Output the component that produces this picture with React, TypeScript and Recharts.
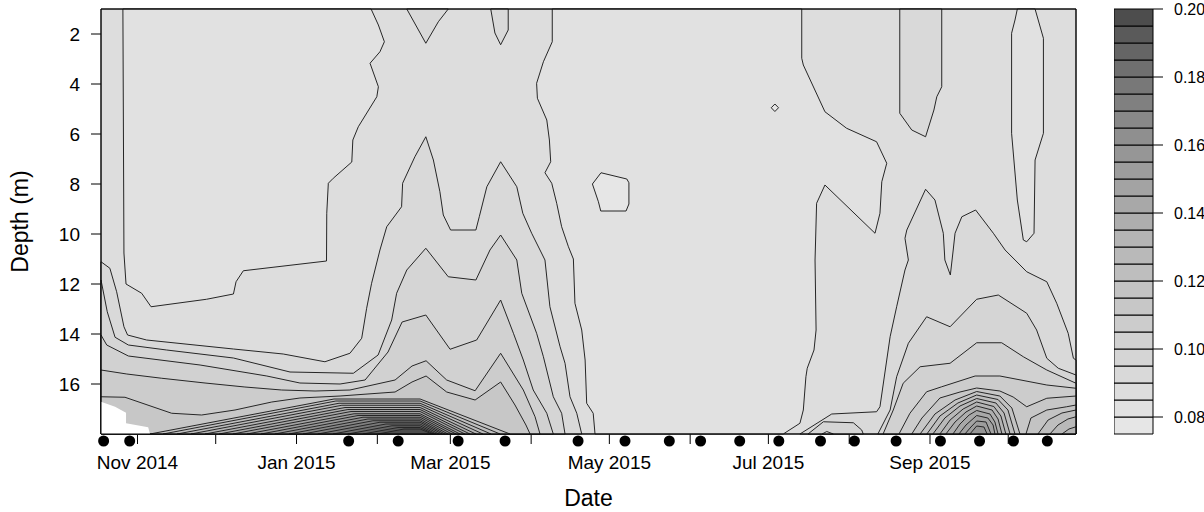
import React from 'react';
import { ComposedChart, Scatter, XAxis, YAxis } from 'recharts';

type Pt = [number, number];

// x runs in days since 1 Nov 2014, y is depth in metres (surface at the top).
const ORIGIN = Date.UTC(2014, 10, 1);
const dayOf = (iso: string) => {
  const [y, m, d] = iso.split('-').map(Number);
  return (Date.UTC(y, m - 1, d) - ORIGIN) / 86400000;
};

const monthStarts = [
  '2014-11-01', '2014-12-01', '2015-01-01', '2015-02-01', '2015-03-01', '2015-04-01',
  '2015-05-01', '2015-06-01', '2015-07-01', '2015-08-01', '2015-09-01', '2015-10-01',
];
const monthLabels = ['Nov 2014', '', 'Jan 2015', '', 'Mar 2015', '', 'May 2015', '', 'Jul 2015', '', 'Sep 2015', ''];
const depthTicks = [2, 4, 6, 8, 10, 12, 14, 16];
const sampleDates = [
  '2014-10-19', '2014-10-29', '2015-01-21', '2015-02-09', '2015-03-04', '2015-03-22', '2015-04-19',
  '2015-05-07', '2015-05-24', '2015-06-05', '2015-06-20', '2015-07-05', '2015-07-21', '2015-08-03',
  '2015-08-19', '2015-09-05', '2015-09-20', '2015-10-03', '2015-10-16',
];

const dayRange: Pt = [-14, 360];
const depthRange: Pt = [1, 18];

// contour levels of the colour key (0.075 .. 0.200 by 0.005)
const keyLevels = [
  0.075, 0.08, 0.085, 0.09, 0.095, 0.1, 0.105, 0.11, 0.115, 0.12, 0.125, 0.13, 0.135,
  0.14, 0.145, 0.15, 0.155, 0.16, 0.165, 0.17, 0.175, 0.18, 0.185, 0.19, 0.195, 0.2,
];
const keyTicks = [0.08, 0.1, 0.12, 0.14, 0.16, 0.18, 0.2];

// ---- contour regions, [day, depth] vertices ----
const wholePlot: Pt[] = [[-14, 1], [360, 1], [360, 18], [-14, 18]];

// below 0.085
const upperLeftLow: Pt[] = [[-5.6, 1], [89.6, 1], [92.4, 1.64], [94.7, 2.31], [93, 2.71], [89.2, 3.17], [92.4, 4.11], [91.8, 4.51], [84.7, 5.71], [82.6, 6.24], [82.2, 7.12], [75.1, 7.77], [73.2, 7.97], [72.6, 9.17], [72.5, 11.08], [40.6, 11.47], [37.8, 11.91], [36.8, 12.4], [26.5, 12.61], [5.2, 12.91], [1.6, 12.37], [-4.4, 12.0], [-5.2, 10.76]];
const summerLow: Pt[] = [[159.1, 1], [159.1, 2.31], [155.7, 3.11], [153.1, 3.97], [153.4, 4.57], [157, 5.44], [158, 6.24], [158.5, 7.11], [156.3, 7.55], [158.9, 7.97], [160.8, 8.77], [162.7, 9.71], [165.3, 10.51], [167.2, 11.0], [167.8, 12.77], [170.4, 13.84], [171.7, 15.04], [172.3, 16.77], [174.8, 17.17], [175.5, 18], [247.7, 18], [254.1, 17.57], [255.4, 17.04], [256.4, 15.71], [256.9, 15.37], [259.5, 14.64], [260.3, 13.84], [259.9, 11.04], [260.5, 8.77], [263.7, 8.04], [282.9, 9.97], [284.8, 9.17], [285.5, 7.91], [287.4, 7.17], [283.5, 6.31], [272, 5.77], [263.7, 5.11], [255.4, 3.24], [254.8, 2.97], [254.8, 1]];
const octoberLow: Pt[] = [[337.5, 1], [344.3, 1], [347.5, 2.17], [347.5, 5.97], [344.3, 7.04], [343.9, 9.97], [341.1, 10.31], [339.8, 10.24], [337.5, 8.64], [335.3, 5.97], [335.3, 1.97], [336.6, 1.44]];

// below 0.080
const mayPocket: Pt[] = [[177.8, 7.55], [187.7, 7.8], [188.5, 7.95], [188.5, 8.8], [187.4, 9.08], [177.7, 9.08], [176.8, 8.71], [174.5, 8.0]];
const julyPocket: Pt[] = [[243.1, 4.95], [244.5, 4.8], [245.9, 4.95], [244.5, 5.1]];

// above 0.090
const winter090: Pt[] = [[-14, 11.11], [-10.6, 11.37], [-8, 12.31], [-5.2, 13.71], [-3.8, 14.04], [3.5, 14.24], [36.8, 14.6], [55.9, 14.8], [71.9, 15.11], [81.5, 14.77], [86, 14.17], [87.9, 12.97], [89.8, 11.97], [93, 10.64], [95.6, 9.71], [101.3, 8.91], [101.7, 7.97], [106.4, 6.91], [110.6, 6.11], [113.5, 7.04], [116, 8.31], [117.3, 9.24], [120.1, 9.84], [129.8, 9.84], [131.1, 9.31], [134, 8.11], [139.3, 7.11], [145.5, 8.11], [147.8, 9.17], [151.2, 9.97], [154.4, 10.64], [156.3, 11.04], [158.2, 12.91], [162.1, 14.51], [164, 15.17], [165.9, 16.51], [168.5, 17.17], [170.4, 18], [-14, 18]];
const febSurface090: Pt[] = [[103.3, 1], [110.6, 2.37], [115.4, 1.51], [119.2, 1]];
const marSurface090: Pt[] = [[135.5, 1], [137.1, 1.96], [139.3, 2.43], [142.2, 1.84], [142.2, 1]];
const augSurface090: Pt[] = [[292.4, 1], [292.4, 5.17], [297, 5.84], [302.3, 6.11], [305.5, 5.04], [306.6, 4.51], [308.5, 4.11], [308.5, 1]];
const autumn090: Pt[] = [[254.1, 18], [266.3, 17.2], [283.5, 17.11], [284.8, 16.91], [287.4, 15.04], [288.7, 14.11], [291.2, 12.91], [294.4, 11.44], [295.7, 11.04], [294.4, 10.17], [295.1, 9.84], [302.3, 8.21], [305.9, 8.64], [309.1, 9.97], [309.7, 11.04], [311.8, 11.64], [312.9, 10.64], [313.6, 9.97], [316.2, 9.31], [321.5, 9.04], [328.3, 9.97], [332.8, 10.64], [341.1, 11.51], [348.8, 11.91], [352.6, 12.77], [357, 13.97], [359, 14.97], [360, 15.04], [360, 18]];

// above 0.095
const winter095: Pt[] = [[-14, 11.84], [-11.6, 13.11], [-8.6, 14.13], [-3.5, 14.44], [11.2, 14.64], [36.8, 14.96], [58.5, 15.52], [82.8, 15.57], [92.3, 14.84], [97.5, 13.44], [99.4, 12.37], [103.3, 11.44], [110.6, 10.57], [119.2, 11.71], [129.8, 11.84], [135.2, 10.64], [139.3, 10.04], [145.5, 11.04], [147.4, 12.37], [153.1, 13.97], [155.7, 14.91], [159.5, 16.51], [162.7, 17.17], [164, 18], [-14, 18]];
const julyBump095: Pt[] = [[257.2, 18], [263.1, 17.51], [274.6, 17.55], [277.8, 17.84], [278.4, 18]];
const autumn095: Pt[] = [[284, 18], [288.7, 17.04], [291.2, 15.71], [295.7, 14.37], [302.7, 13.31], [311.7, 13.71], [321.9, 12.61], [330.2, 12.44], [341.1, 13.17], [344.9, 13.84], [348.8, 14.97], [353.2, 15.37], [360, 15.64], [360, 18]];

// above 0.100
const winter100: Pt[] = [[-14, 14.04], [-11.8, 14.44], [-3.5, 14.88], [24, 15.24], [49.6, 15.68], [62.3, 15.96], [77.7, 16], [87.3, 15.84], [96.1, 14.72], [101.5, 13.52], [110.6, 13.24], [119.9, 14.61], [130.1, 14.24], [139.3, 12.64], [144.2, 13.97], [148, 15.04], [151.8, 16.24], [157, 17.17], [159.5, 18], [-14, 18]];
const julyBump100: Pt[] = [[262.6, 18], [264.4, 17.9], [266.9, 18]];
const autumn100: Pt[] = [[286, 18], [289.9, 17.04], [293.7, 15.97], [300.2, 15.31], [311.7, 15.17], [321.9, 14.35], [331.5, 14.35], [339.8, 14.91], [348.8, 15.44], [360, 15.97], [360, 18]];

// above 0.105
const winter105: Pt[] = [[-14, 15.44], [-4.1, 15.6], [9.3, 15.77], [25.9, 15.96], [41.2, 16.12], [55.3, 16.24], [68.1, 16.28], [81.5, 16.24], [98.8, 15.84], [105.3, 15.28], [110.7, 15.07], [118.6, 15.84], [129.5, 16.27], [139.3, 14.77], [148, 16.24], [152.5, 17.31], [154.4, 18], [-14, 18]];
const autumn105: Pt[] = [[292.1, 18], [296.3, 17.17], [302.7, 16.31], [308.5, 16.11], [321.3, 15.68], [330.8, 15.68], [348.8, 16.04], [360, 16.17], [360, 18]];

// above 0.110
const winter110: Pt[] = [[-14, 16.51], [-4.8, 16.53], [13.1, 17.17], [24.6, 17.24], [37.4, 17.04], [51.5, 16.72], [62.3, 16.56], [77.7, 16.48], [98.8, 16.32], [105.3, 15.92], [110.7, 15.68], [118.6, 16.32], [129.5, 16.64], [139.3, 15.92], [144.8, 16.84], [149, 17.64], [150.6, 18], [-14, 18]];
const autumn110: Pt[] = [[297, 18], [300.9, 17.36], [307.8, 16.56], [315.5, 16.32], [321.9, 16.16], [330.8, 16.28], [335.9, 16.52], [341.1, 16.91], [348.8, 16.57], [360, 16.48], [360, 18]];

// bottom maximum in Feb-Mar, levels 0.115 .. 0.195
const winterHill: Pt[][] = [
  [[4.8, 18], [75.4, 16.6], [108.4, 16.6], [142.9, 18]],
  [[9.8, 18], [76.1, 16.68], [108.4, 16.68], [139.1, 18]],
  [[15.2, 18], [77.3, 16.77], [108.4, 16.77], [135.6, 18]],
  [[20.5, 18], [78.4, 16.85], [108.4, 16.85], [132.5, 18]],
  [[25.9, 18], [79.6, 16.94], [108.4, 16.94], [129.8, 18]],
  [[31.3, 18], [80.7, 17.02], [108.4, 17.02], [127.5, 18]],
  [[36.6, 18], [81.9, 17.1], [108.4, 17.1], [125.6, 18]],
  [[42, 18], [83.1, 17.19], [108.4, 17.19], [123.7, 18]],
  [[47.4, 18], [84.6, 17.26], [108.4, 17.26], [122.2, 18]],
  [[52.7, 18], [86.5, 17.33], [108.4, 17.33], [120.6, 18]],
  [[58.1, 18], [88.4, 17.4], [108.4, 17.4], [119.1, 18]],
  [[63.5, 18], [90.3, 17.47], [108.4, 17.47], [117.9, 18]],
  [[69.2, 18], [93, 17.53], [108.4, 17.53], [116.8, 18]],
  [[75, 18], [95.3, 17.6], [108.4, 17.6], [115.6, 18]],
  [[80.7, 18], [97.6, 17.67], [108.4, 17.67], [114.5, 18]],
  [[86.5, 18], [99.9, 17.74], [108.4, 17.74], [113.7, 18]],
  [[92.3, 18], [102.2, 17.8], [108.4, 17.8], [113, 18]],
];

// bottom maximum in September, levels 0.115 .. 0.155
const autumnPeak: Pt[][] = [
  [[300.2, 18], [305.9, 17.2], [313.6, 16.64], [321.9, 16.3], [330.8, 16.48], [335.4, 16.96], [338.5, 18]],
  [[302.8, 18], [307.8, 17.28], [314.7, 16.76], [321.9, 16.44], [330.1, 16.62], [333.9, 17.04], [336.6, 18]],
  [[305.1, 18], [309.7, 17.36], [315.5, 16.88], [321.9, 16.58], [329.3, 16.76], [332.4, 17.16], [334.7, 18]],
  [[307.8, 18], [311.7, 17.44], [316.7, 17], [321.9, 16.72], [328.5, 16.9], [331.2, 17.28], [333.1, 18]],
  [[310.1, 18], [313.6, 17.52], [317.8, 17.12], [321.9, 16.88], [327.8, 17.04], [330.1, 17.4], [331.6, 18]],
  [[312.8, 18], [315.5, 17.6], [319, 17.24], [321.9, 17.06], [327, 17.2], [328.9, 17.52], [330.1, 18]],
  [[315.1, 18], [317.8, 17.64], [321.9, 17.26], [326.2, 17.36], [328.2, 17.64], [328.9, 18]],
  [[317.4, 18], [319.7, 17.72], [321.9, 17.48], [325.5, 17.52], [327.4, 18]],
  [[319.3, 18], [321.9, 17.68], [324.7, 17.72], [325.9, 18]],
];

// late October bottom, levels 0.115 .. 0.130
const octoberBottom: Pt[][] = [
  [[340.8, 18], [342.7, 17.36], [348.8, 17.04], [356.4, 16.91], [360, 16.84], [360, 18]],
  [[345.4, 18], [349.3, 17.44], [354.6, 17.16], [360, 17.04], [360, 18]],
  [[350, 18], [353.1, 17.64], [356.9, 17.4], [360, 17.31], [360, 18]],
  [[354.6, 18], [357.3, 17.8], [360, 17.71], [360, 18]],
];

// no data below the first profiles
const missing: Pt[] = [[-14, 16.71], [-8.6, 16.91], [-4.4, 17.15], [-4.4, 17.57], [4.1, 17.73], [4.8, 18], [-14, 18]];

// [band index, polygon]; band k spans keyLevels[k]..keyLevels[k+1]
const regions: [number, Pt[]][] = [
  [2, wholePlot],
  [1, upperLeftLow], [1, summerLow], [1, octoberLow],
  [0, mayPocket], [0, julyPocket],
  [3, winter090], [3, febSurface090], [3, marSurface090], [3, augSurface090], [3, autumn090],
  [4, winter095], [4, julyBump095], [4, autumn095],
  [5, winter100], [5, julyBump100], [5, autumn100],
  [6, winter105], [6, autumn105],
  [7, winter110], [7, autumn110],
  ...winterHill.map((p, i): [number, Pt[]] => [8 + i, p]),
  ...autumnPeak.map((p, i): [number, Pt[]] => [8 + i, p]),
  ...octoberBottom.map((p, i): [number, Pt[]] => [8 + i, p]),
];

const FONT = '"Liberation Sans", Arial, Helvetica, sans-serif';
const LINE = '#262626';

// grey ramp, light for low values and dark for high (R gray.colors, gamma 2.2)
const bandColor = (k: number) => {
  const lo = Math.pow(0.9, 2.2);
  const hi = Math.pow(0.3, 2.2);
  const g = Math.round(Math.pow(lo + ((hi - lo) * k) / 24, 1 / 2.2) * 255);
  return `rgb(${g},${g},${g})`;
};

const toXY = (pts: Pt[]) => pts.map(([x, y]) => ({ x, y }));
const noDot = () => <g />;
const rugDot = (p: any) => <circle cx={p.cx} cy={p.cy + 7} r={5.5} fill="#000" />;

const polygonLine = (fill: string, stroke: string) => (p: any) => (
  <polygon
    points={(p.points || []).map((q: any) => `${q.x},${q.y}`).join(' ')}
    fill={fill}
    stroke={stroke}
    strokeWidth={1}
    strokeLinejoin="round"
  />
);

const monthTicks = monthStarts.map(dayOf);
const monthName = (v: number) => monthLabels[monthTicks.indexOf(v)] ?? '';

const DateTitle = (props: any) => {
  const vb = props.viewBox;
  return (
    <text x={vb.x + vb.width / 2} y={vb.y + 72} textAnchor="middle" fill="#000" fontSize={23} fontFamily={FONT}>
      Date
    </text>
  );
};

const DepthTitle = (props: any) => {
  const vb = props.viewBox;
  const cy = vb.y + vb.height / 2;
  return (
    <text x={28} y={cy} transform={`rotate(-90, 28, ${cy})`} textAnchor="middle" fill="#000" fontSize={23} fontFamily={FONT}>
      Depth (m)
    </text>
  );
};

const ContourPanel = () => (
  <ComposedChart width={1204} height={512} margin={{ top: 9, right: 128, bottom: 0, left: 0 }}>
    <XAxis
      type="number"
      dataKey="x"
      domain={dayRange}
      ticks={monthTicks}
      interval={0}
      tickFormatter={monthName}
      height={78}
      tickSize={10}
      tickMargin={12}
      axisLine={false}
      tickLine={{ stroke: '#000' }}
      tick={{ fill: '#000', fontSize: 19, fontFamily: FONT }}
      label={<DateTitle />}
    />
    <YAxis
      type="number"
      dataKey="y"
      domain={depthRange}
      reversed
      ticks={depthTicks}
      interval={0}
      width={101}
      tickSize={10}
      tickMargin={11}
      axisLine={false}
      tickLine={{ stroke: '#000' }}
      tick={{ fill: '#000', fontSize: 19, fontFamily: FONT }}
      label={<DepthTitle />}
    />
    {regions.map(([band, pts], i) => (
      <Scatter
        key={`r${i}`}
        data={toXY(pts)}
        shape={noDot}
        line={polygonLine(bandColor(band), LINE)}
        isAnimationActive={false}
        legendType="none"
      />
    ))}
    <Scatter data={toXY(missing)} shape={noDot} line={polygonLine('#fff', 'none')} isAnimationActive={false} legendType="none" />
    <Scatter data={toXY(wholePlot)} shape={noDot} line={polygonLine('none', '#000')} isAnimationActive={false} legendType="none" />
    <Scatter
      data={sampleDates.map((d) => ({ x: dayOf(d), y: depthRange[1] }))}
      shape={rugDot}
      isAnimationActive={false}
      legendType="none"
    />
  </ComposedChart>
);

const ColorKey = () => (
  <ComposedChart width={90} height={512} margin={{ top: 9, right: 0, bottom: 78, left: 0 }}>
    <XAxis type="number" dataKey="x" domain={[0, 1]} hide />
    <YAxis
      type="number"
      dataKey="y"
      orientation="right"
      domain={[keyLevels[0], keyLevels[keyLevels.length - 1]]}
      ticks={keyTicks}
      interval={0}
      width={51}
      tickSize={10}
      tickMargin={11}
      axisLine={false}
      tickLine={{ stroke: '#000' }}
      tick={{ fill: '#000', fontSize: 16, fontFamily: FONT }}
      tickFormatter={(v: number) => v.toFixed(2)}
    />
    {keyLevels.slice(0, -1).map((lo, k) => (
      <Scatter
        key={`k${k}`}
        data={toXY([[0, lo], [1, lo], [1, keyLevels[k + 1]], [0, keyLevels[k + 1]]])}
        shape={noDot}
        line={polygonLine(bandColor(k), '#000')}
        isAnimationActive={false}
        legendType="none"
      />
    ))}
  </ComposedChart>
);

export default function App() {
  return (
    <div style={{ position: 'absolute', left: 0, top: 0, width: 1204, height: 512, background: '#fff', overflow: 'hidden' }}>
      <div style={{ position: 'absolute', left: 0, top: 0 }}>
        <ContourPanel />
      </div>
      <div style={{ position: 'absolute', left: 1114, top: 0 }}>
        <ColorKey />
      </div>
    </div>
  );
}
